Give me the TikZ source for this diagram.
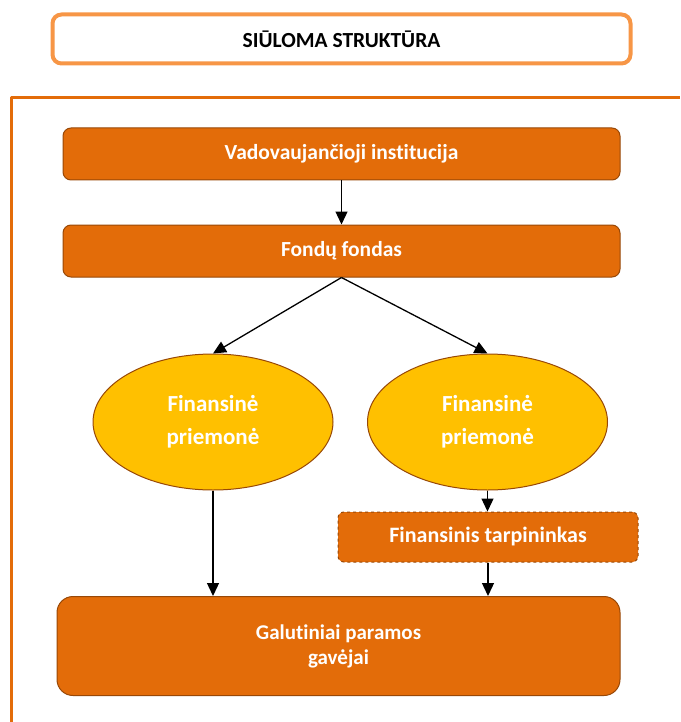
\documentclass[tikz,border=0pt]{standalone}
\usepackage{fontspec}
\setmainfont{Carlito}[Ligatures=NoCommon]
\usetikzlibrary{arrows.meta,shapes.geometric}

\definecolor{boxorange}{HTML}{E36C09}
\definecolor{boxedge}{HTML}{984807}
\definecolor{lightorange}{HTML}{F79646}
\definecolor{ovalyellow}{HTML}{FFC000}

\begin{document}
\begin{tikzpicture}[x=1pt, y=-1pt, line join=round,
  orangebox/.style={rectangle, rounded corners=8pt, draw=boxedge, line width=1pt,
    fill=boxorange, text=white, font=\fontsize{21.5}{26}\selectfont\bfseries, align=center},
  ovalbox/.style={ellipse, draw=boxedge, line width=1pt, fill=ovalyellow, text=white,
    minimum width=240pt, minimum height=136pt, inner sep=0pt,
    font=\fontsize{23}{33}\selectfont\bfseries, align=center},
  flow/.style={line width=1.3pt, -{Triangle[length=13pt,width=12pt]}}]

  %% ════ title and frame ════
  \node[rectangle, rounded corners=9pt, draw=lightorange, line width=4pt, fill=white,
    minimum width=578pt, minimum height=49pt, font=\fontsize{21.5}{26}\selectfont\bfseries]
    (title) at (341.5,39) {SIŪLOMA STRUKTŪRA};
  \draw[boxorange, line width=3pt] (11,722) -- (11,98) -- (680,98);

  %% ════ boxes ════
  \node[orangebox, minimum width=557pt, minimum height=52pt] (vad) at (341.5,154) {Vadovaujančioji institucija};
  \node[orangebox, minimum width=557pt, minimum height=52pt] (fond) at (341.5,251) {Fondų fondas};
  \node[ovalbox] (fp1) at (213,422) {Finansinė\\priemonė};
  \node[ovalbox] (fp2) at (487.5,422) {Finansinė\\priemonė};
  \node[orangebox, dashed, rounded corners=6pt, minimum width=300pt, minimum height=50pt,
    font=\fontsize{22}{26}\selectfont\bfseries] (tarp) at (488,537) {Finansinis tarpininkas};
  \node[orangebox, rounded corners=16pt, minimum width=563pt, minimum height=99pt,
    font=\fontsize{21}{25}\selectfont\bfseries] (gal) at (338.5,646) {Galutiniai paramos\\gavėjai};

  %% ════ arrows ════
  \draw[flow] (vad) -- (fond);
  \draw[flow] (fond.south) -- (fp1.north);
  \draw[flow] (fond.south) -- (fp2.north);
  \draw[flow] (fp2.south) -- (fp2.south |- tarp.north);
  \draw[flow] (fp1.south) -- (fp1.south |- gal.north);
  \draw[flow] (tarp.south) -- (tarp.south |- gal.north);

  \pgfresetboundingbox
  \path[use as bounding box] (0,0) rectangle (680,722);
\end{tikzpicture}
\end{document}
